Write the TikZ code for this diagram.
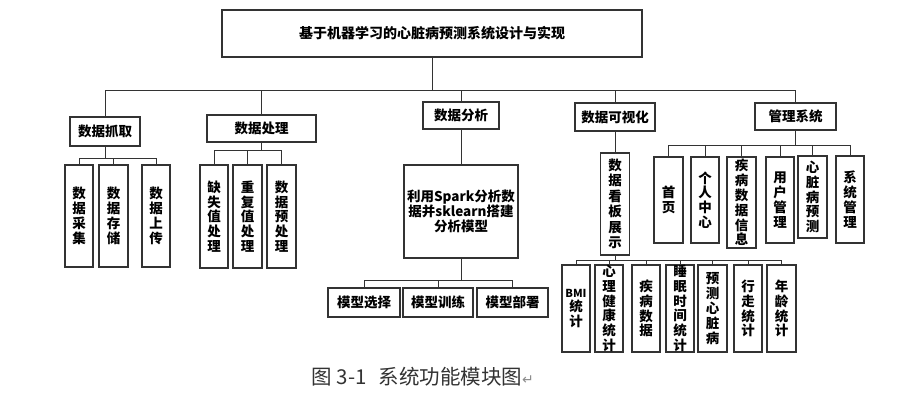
\documentclass[tikz,border=0pt]{standalone}
\usepackage{fontspec}
\newfontfamily\cjk{Noto Sans CJK SC}
\newfontfamily\symf{DejaVu Sans}
\begin{document}
\begin{tikzpicture}[x=1pt,y=-1pt,
  box/.style={draw=black!80, line width=1.1pt, inner sep=0pt, align=center, fill=white,
    font=\cjk\bfseries\fontsize{13.5}{14.8}\selectfont},
  sz/.style 2 args={minimum width=#1pt, minimum height=#2pt},
  conn/.style={draw=black!80, line width=0.9pt}]
\useasboundingbox (0,0) rectangle (908,405);
\fill[white] (0,0) rectangle (908,405);

% root
\node[box, sz={420}{47}, font=\cjk\bfseries\fontsize{14}{16}\selectfont] (root) at (432,33.5) {基于机器学习的心脏病预测系统设计与实现};

% level 1
\node[box, sz={70}{29}] (a) at (105,131.5) {数据抓取};
\node[box, sz={109}{27}] (b) at (261.5,128.5) {数据处理};
\node[box, sz={76}{27}] (c) at (461,115.5) {数据分析};
\node[box, sz={80}{28}] (d) at (615,117) {数据可视化};
\node[box, sz={81}{27}] (e) at (795.5,116.5) {管理系统};

% a children
\node[box, sz={28}{102}] (a1) at (79,216) {数\\据\\采\\集};
\node[box, sz={29}{102}] (a2) at (113.5,216) {数\\据\\存\\储};
\node[box, sz={28}{102}] (a3) at (156,216) {数\\据\\上\\传};

% b children
\node[box, sz={28}{103}] (b1) at (214,216.5) {缺\\失\\值\\处\\理};
\node[box, sz={29}{103}] (b2) at (247.5,216.5) {重\\复\\值\\处\\理};
\node[box, sz={29}{103}] (b3) at (281.5,216.5) {数\\据\\预\\处\\理};

% c children
\node[box, sz={114}{93}] (cc) at (461,211.5) {利用Spark分析数\\据并sklearn搭建\\分析模型};
\node[box, sz={72}{29}] (c1) at (364,302.5) {模型选择};
\node[box, sz={70}{29}] (c2) at (438,302.5) {模型训练};
\node[box, sz={71}{29}] (c3) at (512.5,302.5) {模型部署};

% d children
\node[box, sz={29}{102}, font=\cjk\bfseries\fontsize{13.5}{15.5}\selectfont] (dd) at (615,204) {数\\据\\看\\板\\展\\示};
\node[box, sz={28}{87}] (d1) at (576,308.5) {{\fontsize{11}{14.8}\selectfont BMI}\\统\\计};
\node[box, sz={28}{87}] (d2) at (609,308.5) {心\\理\\健\\康\\统\\计};
\node[box, sz={28}{87}] (d3) at (646,308.5) {疾\\病\\数\\据};
\node[box, sz={28}{87}] (d4) at (680,308.5) {睡\\眠\\时\\间\\统\\计};
\node[box, sz={29}{87}] (d5) at (712.5,308.5) {预\\测\\心\\脏\\病};
\node[box, sz={28}{87}] (d6) at (748,308.5) {行\\走\\统\\计};
\node[box, sz={29}{87}] (d7) at (781.5,308.5) {年\\龄\\统\\计};

% e children
\node[box, sz={29}{86}] (e1) at (668.5,200) {首\\页};
\node[box, sz={28}{86}] (e2) at (705,200) {个\\人\\中\\心};
\node[box, sz={29}{91}] (e3) at (741.5,202.5) {疾\\病\\数\\据\\信\\息};
\node[box, sz={28}{86}] (e4) at (780,200) {用\\户\\管\\理};
\node[box, sz={29}{82}] (e5) at (812.5,197) {心\\脏\\病\\预\\测};
\node[box, sz={28}{87}] (e6) at (850,199.5) {系\\统\\管\\理};

% caption
\node[anchor=west, inner sep=0pt, text=black!80, font=\cjk\fontsize{20.5}{24}\selectfont] (cap) at (311,377) {图\hspace{5pt}3-1\hspace{12pt}系统功能模块图{\symf\fontsize{14}{16}\selectfont\color{black!45}↵}};

% connectors
\path (root.south) ++(0,33) coordinate (b0);
\draw[conn] (root.south) -- (b0);
\foreach \n in {a,b,c,d,e} \draw[conn] (b0) -| (\n.north);

\path (a.south) ++(0,12) coordinate (ba);
\draw[conn] (a.south) -- (ba);
\foreach \n in {a1,a2,a3} \draw[conn] (ba) -| (\n.north);

\path (b.south) ++(0,8) coordinate (bb);
\draw[conn] (b.south) -- (bb);
\foreach \n in {b1,b2,b3} \draw[conn] (bb) -| (\n.north);

\draw[conn] (c.south) -- (cc.north);
\path (cc.south) ++(0,22) coordinate (bc);
\draw[conn] (cc.south) -- (bc);
\foreach \n in {c1,c2,c3} \draw[conn] (bc) -| (\n.north);

\draw[conn] (d.south) -- (dd.north);
\path (dd.south) ++(0,5) coordinate (bd);
\draw[conn] (dd.south) -- (bd);
\foreach \n in {d1,d2,d3,d4,d5,d6,d7} \draw[conn] (bd) -| (\n.north);

\path (e.south) ++(0,15) coordinate (be);
\draw[conn] (e.south) -- (be);
\foreach \n in {e1,e2,e3,e4,e5,e6} \draw[conn] (be) -| (\n.north);
\end{tikzpicture}
\end{document}
